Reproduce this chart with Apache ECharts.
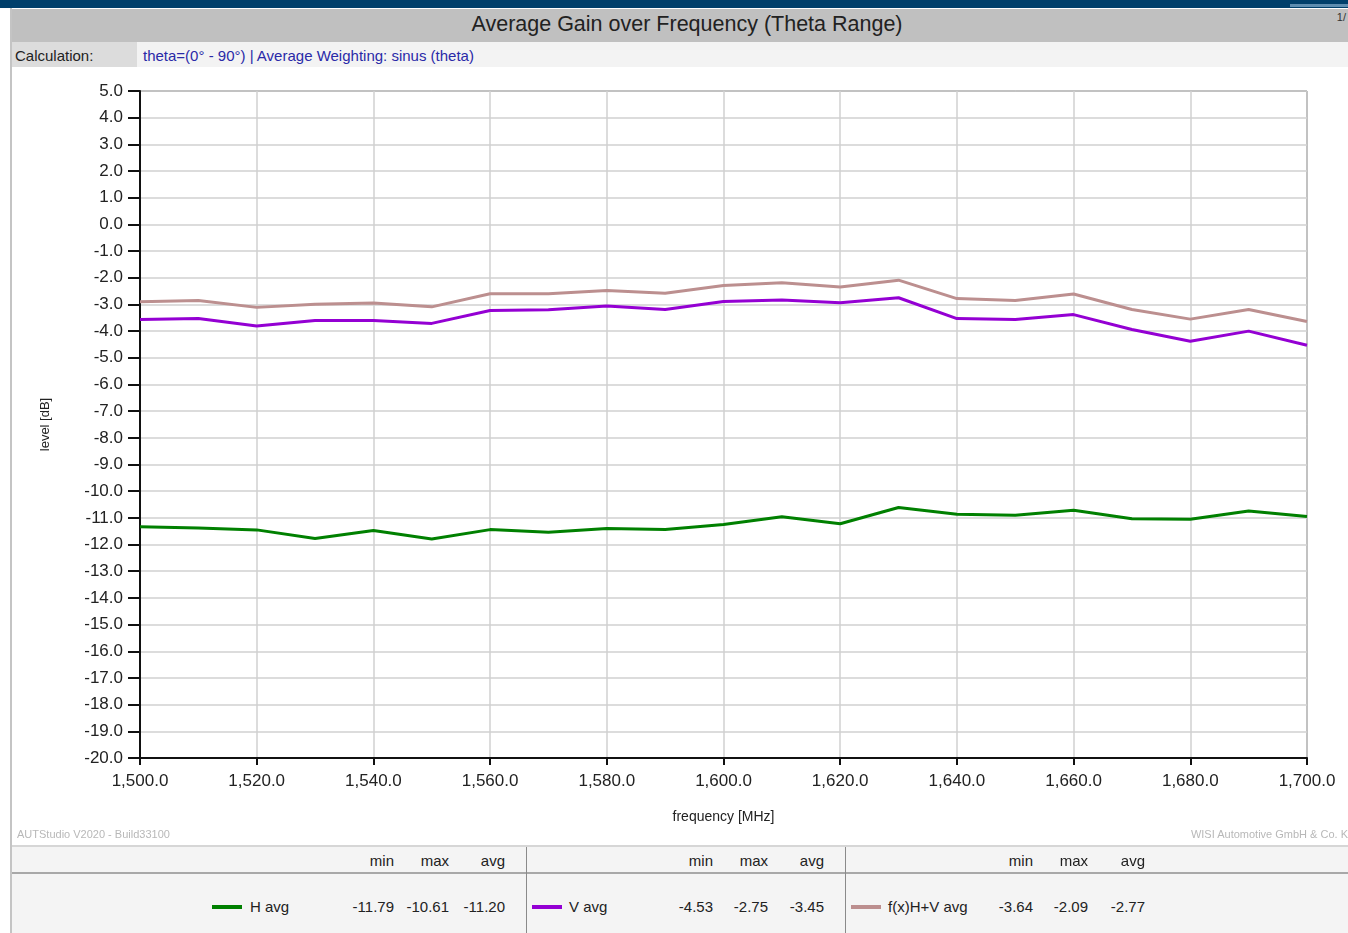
<!DOCTYPE html>
<html>
<head>
<meta charset="utf-8">
<script src="https://cdn.jsdelivr.net/npm/echarts@6/dist/echarts.min.js"></script>
<style>
  html, body { margin: 0; padding: 0; width: 1348px; height: 933px; overflow: hidden; background: #fff; font-family: "Liberation Sans", Arial, sans-serif; }
  .topbar { position: absolute; left: 0; top: 0; width: 1348px; height: 8px; background: #003f6b; }
  .topbar .hl { position: absolute; right: 0; top: 4px; width: 58px; height: 3px; background: #5e8db0; }
  .leftline { position: absolute; left: 10px; top: 8px; width: 2px; height: 925px; background: #c4c4c4; }
  .titlebar { position: absolute; left: 12px; top: 9px; width: 1336px; height: 33px; background: #c0c0c0; text-align: center; line-height: 31px; font-size: 21.5px; color: #222; padding-left: 14px; box-sizing: border-box; }
  .page { position: absolute; right: 2px; top: 11px; font-size: 11px; color: #333; }
  .calc { position: absolute; left: 12px; top: 42px; width: 1336px; height: 25px; background: #f3f3f3; }
  .calc .lbl { position: absolute; left: 0; top: 0; width: 125px; height: 25px; background: #dcdcdc; font-size: 15px; line-height: 27px; padding-left: 3px; color: #222; box-sizing: border-box; }
  .calc .val { position: absolute; left: 131px; top: 0; font-size: 15px; line-height: 27px; color: #2a2aa8; }
  #chart { position: absolute; left: 12px; top: 68px; width: 1336px; height: 777px; }
  .foot { position: absolute; top: 828px; font-size: 11px; color: #b8b8b8; }
  .table { position: absolute; left: 12px; top: 845px; width: 1336px; height: 88px; background: #f4f4f4; border-top: 2px solid #d6d6d6; }
  .hdrline { position: absolute; left: 0; top: 25px; width: 1336px; height: 2px; background: #a8a8a8; }
  .vsep { position: absolute; top: 0; width: 1px; height: 88px; background: #8a8a8a; }
  .cell { position: absolute; font-size: 15px; color: #222; white-space: nowrap; }
  .sw { position: absolute; width: 30px; height: 4px; }
</style>
</head>
<body>
<div class="topbar"><div class="hl"></div></div>
<div class="titlebar">Average Gain over Frequency (Theta Range)</div>
<div class="page">1/</div>
<div class="calc"><div class="lbl">Calculation:</div><div class="val">theta=(0° - 90°) | Average Weighting: sinus (theta)</div></div>
<div class="leftline"></div>
<div id="chart"></div>
<div class="foot" style="left:17px">AUTStudio V2020 - Build33100</div>
<div class="foot" style="right:0px">WISI Automotive GmbH &amp; Co. K</div>
<div class="table" id="table">
  <div class="hdrline"></div>
  <div class="vsep" style="left:514px"></div>
  <div class="vsep" style="left:833px"></div>
</div>
<script>
// frequency points [MHz]
var freq = [1500, 1510, 1520, 1530, 1540, 1550, 1560, 1570, 1580, 1590, 1600,
            1610, 1620, 1630, 1640, 1650, 1660, 1670, 1680, 1690, 1700];

// average levels [dB]
var hAvg = [-11.33, -11.38, -11.45, -11.77, -11.47, -11.79, -11.44, -11.54, -11.40, -11.44, -11.25,
            -10.96, -11.22, -10.61, -10.86, -10.90, -10.71, -11.03, -11.05, -10.74, -10.95];
var vAvg = [-3.56, -3.53, -3.81, -3.60, -3.60, -3.71, -3.23, -3.20, -3.06, -3.19, -2.89,
            -2.83, -2.94, -2.75, -3.53, -3.56, -3.38, -3.94, -4.38, -4.00, -4.53];
var hvAvg = [-2.90, -2.85, -3.11, -2.99, -2.95, -3.09, -2.60, -2.60, -2.48, -2.58, -2.29,
             -2.19, -2.35, -2.09, -2.78, -2.85, -2.61, -3.19, -3.55, -3.19, -3.64];

// legend table
var seriesNames = ['H avg', 'V avg', 'f(x)H+V avg'];
var seriesColors = ['#008000', '#9400d3', '#bc8f8f'];
var statMin = ['-11.79', '-4.53', '-3.64'];
var statMax = ['-10.61', '-2.75', '-2.09'];
var statAvg = ['-11.20', '-3.45', '-2.77'];

function pairs(ys) {
  return freq.map(function (f, i) { return [f, ys[i]]; });
}

var chart = echarts.init(document.getElementById('chart'));
var lineSeries = [hAvg, vAvg, hvAvg].map(function (ys, i) {
  return {
    name: seriesNames[i],
    type: 'line',
    data: pairs(ys),
    symbol: 'none',
    lineStyle: { color: seriesColors[i], width: 3 },
    itemStyle: { color: seriesColors[i] },
    z: 3
  };
});

chart.setOption({
  animation: false,
  textStyle: { fontFamily: 'Liberation Sans, Arial, sans-serif' },
  grid: { left: 128, right: 41, top: 23, bottom: 87, show: true, borderColor: '#333', borderWidth: 1, backgroundColor: 'transparent' },
  xAxis: {
    type: 'value', min: 1500, max: 1700, interval: 20,
    name: 'frequency [MHz]', nameLocation: 'middle', nameGap: 52,
    nameTextStyle: { fontSize: 14, color: '#222' },
    axisLine: { show: true, onZero: false, lineStyle: { color: '#111', width: 2 } },
    axisTick: { show: true, length: 7, lineStyle: { color: '#111', width: 2 } },
    axisLabel: { fontSize: 17, color: '#222', margin: 15,
      formatter: function (v) { return v.toLocaleString('en-US', { minimumFractionDigits: 1, maximumFractionDigits: 1 }); } },
    splitLine: { show: true, lineStyle: { color: '#d0d0d0', width: 1.5 } }
  },
  yAxis: {
    type: 'value', min: -20, max: 5, interval: 1,
    name: 'level [dB]', nameLocation: 'middle', nameGap: 88, nameRotate: 90,
    nameTextStyle: { fontSize: 13, color: '#222' },
    axisLine: { show: true, onZero: false, lineStyle: { color: '#111', width: 2 } },
    axisTick: { show: true, length: 12, lineStyle: { color: '#111', width: 2 } },
    axisLabel: { fontSize: 17, color: '#222', margin: 17,
      formatter: function (v) { return v.toFixed(1); } },
    splitLine: { show: true, lineStyle: { color: '#d0d0d0', width: 1.5 } }
  },
  series: lineSeries
});

// legend / statistic table below the chart
var table = document.getElementById('table');
var swX = [200, 520, 839];
var nameX = [238, 557, 876];
var minRight = [382, 701, 1021];
var maxRight = [437, 756, 1076];
var avgRight = [493, 812, 1133];
function addCell(text, left, top, alignRight) {
  var d = document.createElement('div');
  d.className = 'cell';
  d.textContent = text;
  d.style.top = top + 'px';
  if (alignRight) { d.style.left = (left - 60) + 'px'; d.style.width = '60px'; d.style.textAlign = 'right'; }
  else { d.style.left = left + 'px'; }
  table.appendChild(d);
}
seriesNames.forEach(function (n, i) {
  addCell('min', minRight[i], 5, true);
  addCell('max', maxRight[i], 5, true);
  addCell('avg', avgRight[i], 5, true);
  var sw = document.createElement('div');
  sw.className = 'sw';
  sw.style.left = swX[i] + 'px';
  sw.style.top = '58px';
  sw.style.background = seriesColors[i];
  table.appendChild(sw);
  addCell(n, nameX[i], 51, false);
  addCell(statMin[i], minRight[i], 51, true);
  addCell(statMax[i], maxRight[i], 51, true);
  addCell(statAvg[i], avgRight[i], 51, true);
});
</script>
</body>
</html>
